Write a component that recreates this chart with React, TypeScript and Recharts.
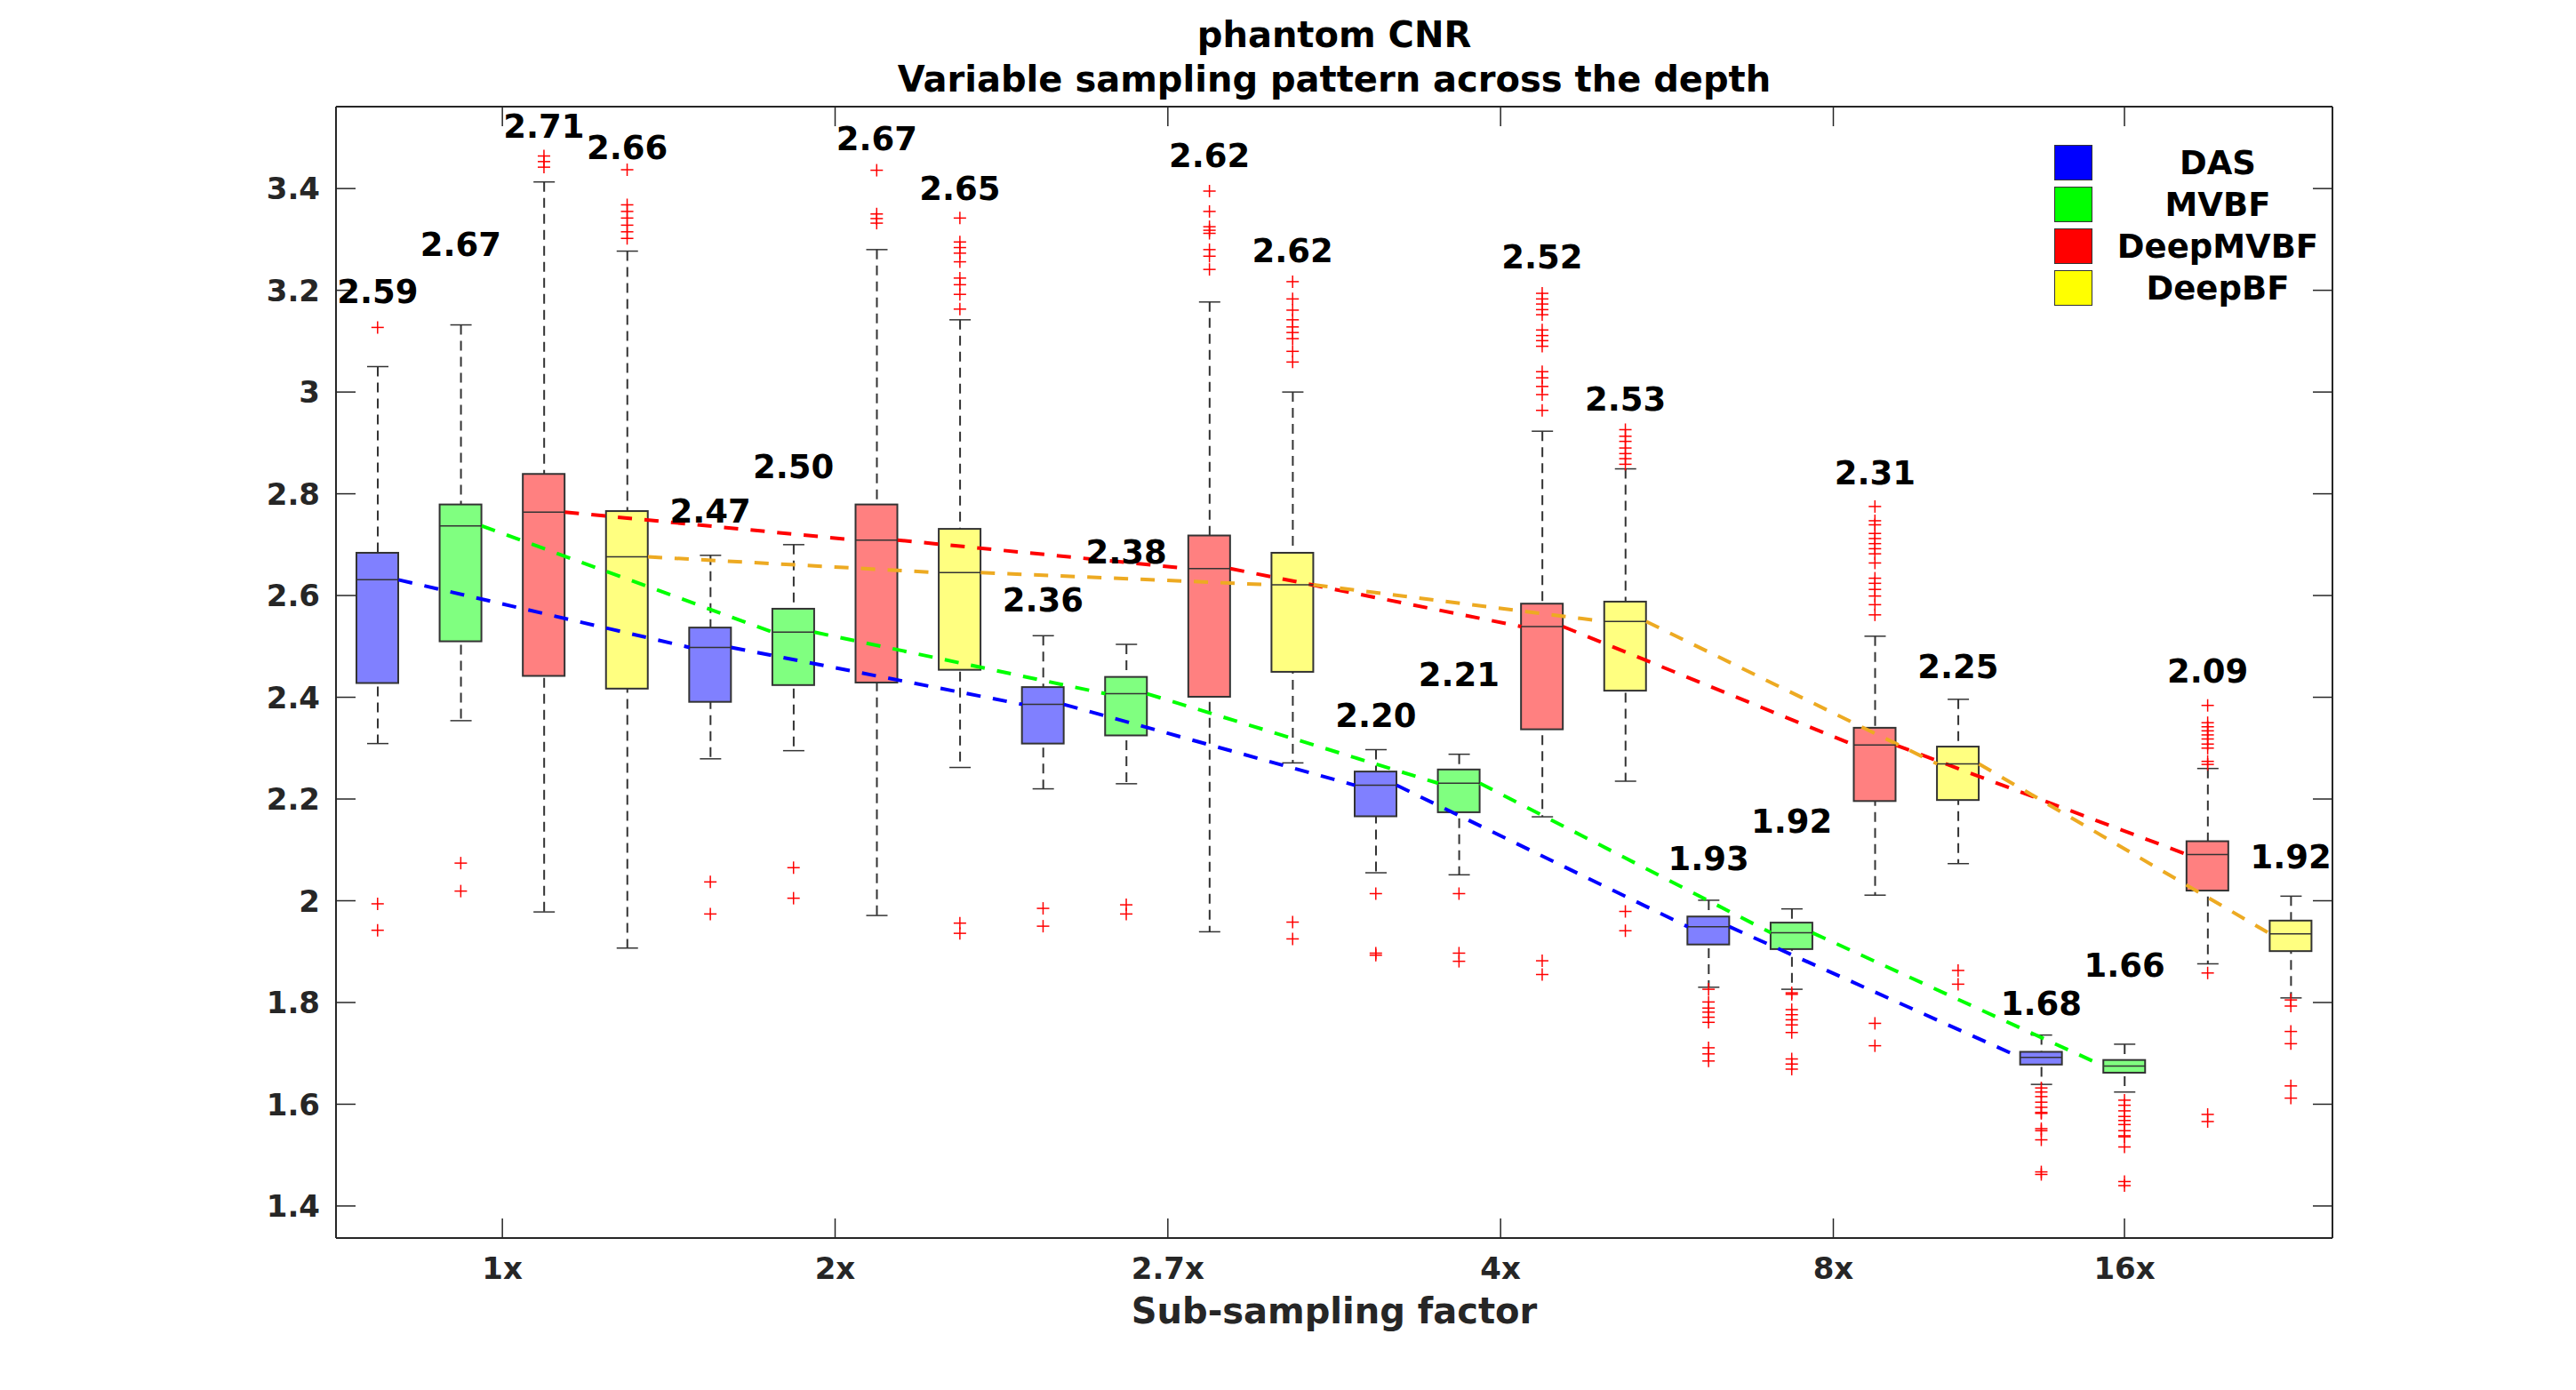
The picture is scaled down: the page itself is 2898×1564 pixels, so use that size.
import React from "react";
import { Bar, ComposedChart, Line, Scatter, XAxis, YAxis } from "recharts";

const METHODS = ["DAS", "MVBF", "DeepMVBF", "DeepBF"];
const FACTORS = ["1x", "2x", "2.7x", "4x", "8x", "16x"];
// MATLAB put the factor ticks at these box positions (16x is not centred on its group)
const FACTOR_TICKS = [2.5, 6.5, 10.5, 14.5, 18.5, 22];
const Y_TICKS = [1.4, 1.6, 1.8, 2, 2.2, 2.4, 2.6, 2.8, 3, 3.2, 3.4];
const Y_DOMAIN = [1.337, 3.561];

// one entry per box, group by group: DAS, MVBF, DeepMVBF, DeepBF
const Q1 = [
  2.428, 2.51, 2.442, 2.417,
  2.391, 2.424, 2.429, 2.454,
  2.309, 2.325, 2.401, 2.45,
  2.166, 2.174, 2.337, 2.413,
  1.914, 1.905, 2.196, 2.198,
  1.678, 1.662, 2.02, 1.901,
];
const MEDIAN = [
  2.631, 2.737, 2.764, 2.676,
  2.498, 2.528, 2.709, 2.645,
  2.386, 2.407, 2.653, 2.621,
  2.227, 2.231, 2.539, 2.549,
  1.949, 1.937, 2.306, 2.269,
  1.692, 1.675, 2.091, 1.935,
];
const Q3 = [
  2.684, 2.779, 2.839, 2.766,
  2.537, 2.574, 2.779, 2.731,
  2.42, 2.44, 2.718, 2.684,
  2.254, 2.258, 2.584, 2.588,
  1.969, 1.957, 2.34, 2.303,
  1.703, 1.687, 2.117, 1.961,
];
const WHISKER_LO = [
  2.309, 2.354, 1.978, 1.907,
  2.279, 2.295, 1.971, 2.262,
  2.22, 2.23, 1.939, 2.271,
  2.055, 2.051, 2.165, 2.235,
  1.83, 1.826, 2.011, 2.073,
  1.639, 1.624, 1.876, 1.809,
];
const WHISKER_HI = [
  3.05, 3.132, 3.413, 3.277,
  2.679, 2.7, 3.28, 3.142,
  2.521, 2.504, 3.177, 3.0,
  2.297, 2.288, 2.923, 2.849,
  2.001, 1.984, 2.52, 2.396,
  1.736, 1.718, 2.26, 2.009,
];
const MEAN = [
  2.59, 2.67, 2.71, 2.66,
  2.47, 2.5, 2.67, 2.65,
  2.36, 2.38, 2.62, 2.62,
  2.2, 2.21, 2.52, 2.53,
  1.93, 1.92, 2.31, 2.25,
  1.68, 1.66, 2.09, 1.92,
];
// where the mean text sits (data units)
const LABEL_Y = [
  3.197, 3.29, 3.521, 3.479,
  2.766, 2.853, 3.498, 3.4,
  2.59, 2.684, 3.464, 3.277,
  2.363, 2.443, 3.265, 2.985,
  2.082, 2.156, 2.841, 2.46,
  1.798, 1.873, 2.45, 2.085,
];
const OUTLIERS = [
  [3.127, 1.994, 1.942],
  [2.074, 2.019],
  [3.464, 3.453, 3.442],
  [3.437, 3.368, 3.355, 3.342, 3.328, 3.315, 3.302],

  [2.037, 1.974],
  [2.065, 2.005],
  [3.436, 3.35, 3.341, 3.332],
  [3.342, 3.295, 3.284, 3.273, 3.256, 3.224, 3.211, 3.192, 3.163, 1.956, 1.936],

  [1.985, 1.95],
  [1.992, 1.974],
  [3.395, 3.355, 3.325, 3.318, 3.312, 3.28, 3.267, 3.241],
  [3.217, 3.183, 3.161, 3.142, 3.128, 3.117, 3.105, 3.08, 3.059, 1.958, 1.925],

  [2.014, 1.897, 1.893],
  [2.014, 1.897, 1.881],
  [3.194, 3.183, 3.173, 3.162, 3.152, 3.122, 3.111, 3.101, 3.09, 3.04, 3.028, 3.011, 2.995, 2.964, 1.882, 1.855],
  [2.926, 2.913, 2.903, 2.89, 2.879, 2.869, 2.858, 1.979, 1.941],

  [1.826, 1.801, 1.789, 1.781, 1.771, 1.761, 1.711, 1.699, 1.685],
  [1.819, 1.816, 1.786, 1.776, 1.766, 1.756, 1.741, 1.689, 1.679, 1.669],
  [2.775, 2.747, 2.739, 2.722, 2.712, 2.702, 2.692, 2.682, 2.664, 2.634, 2.624, 2.612, 2.599, 2.582, 2.562, 1.759, 1.715],
  [1.863, 1.836],

  [1.632, 1.624, 1.615, 1.604, 1.594, 1.584, 1.582, 1.552, 1.548, 1.53, 1.467, 1.462],
  [1.608, 1.598, 1.587, 1.576, 1.568, 1.56, 1.548, 1.538, 1.536, 1.516, 1.448, 1.44],
  [2.384, 2.35, 2.342, 2.334, 2.326, 2.318, 2.308, 2.3, 2.274, 2.268, 1.858, 1.58, 1.566],
  [1.805, 1.793, 1.743, 1.719, 1.636, 1.612],
];

const LEGEND_COLORS = ["#0000ff", "#00ff00", "#ff0000", "#ffff00"];
const BOX_FILL = ["#8080ff", "#80ff80", "#ff8080", "#ffff80"];
const TREND_COLORS = ["#0000ff", "#00ff00", "#ff0000", "#edaa22"];

const FONT = "'DejaVu Sans', sans-serif";
const TICK_STYLE = { fill: "#262626", fontSize: 34, fontWeight: "bold", fontFamily: FONT };
const AXIS_LINE = { stroke: "#262626", strokeWidth: 2 };
const TICK_LINE = { stroke: "#262626", strokeWidth: 1.5 };
const BOX_W = 47;
const HALF_BOX = 0.25; // half a box, in slot units
const X_DOMAIN = [0.5, 24.5];

const boxes = Q1.map((q1, i) => ({
  x: i + 1,
  m: i % 4,
  q1,
  q3: Q3[i],
  med: MEDIAN[i],
  lo: WHISKER_LO[i],
  hi: WHISKER_HI[i],
  labelY: LABEL_Y[i],
  mean: MEAN[i],
}));

const outlierPts = OUTLIERS.flatMap((vals, i) => vals.map((v) => ({ x: i + 1, y: v })));

// dashed trend: segments from the right edge of one box to the left edge of the next
function trendData(m: number) {
  const pts: Array<{ x: number; y: number | null }> = [];
  for (let g = 0; g < FACTORS.length - 1; g++) {
    const a = g * 4 + m;
    const b = (g + 1) * 4 + m;
    pts.push({ x: a + 1 + HALF_BOX, y: MEDIAN[a] });
    pts.push({ x: b + 1 - HALF_BOX, y: MEDIAN[b] });
    pts.push({ x: b + 1, y: null });
  }
  return pts;
}

const BoxShape = (p: any) => {
  const { x, y, width, height, payload } = p;
  if (x == null || y == null) return null;
  return (
    <rect
      x={x}
      y={y}
      width={width}
      height={height}
      fill={BOX_FILL[payload.m]}
      stroke="#333"
      strokeWidth={2}
    />
  );
};

const WhiskerShape = (p: any) => {
  const { x, y, width, height } = p;
  if (x == null || y == null) return null;
  const cx = x + width / 2;
  return (
    <g>
      <line x1={cx} x2={cx} y1={y} y2={y + height} stroke="#333" strokeWidth={2} strokeDasharray="11 7" />
      <line x1={cx - 12} x2={cx + 12} y1={y} y2={y} stroke="#333" strokeWidth={1.5} />
      <line x1={cx - 12} x2={cx + 12} y1={y + height} y2={y + height} stroke="#333" strokeWidth={1.5} />
    </g>
  );
};

const MedianShape = (p: any) => (
  <line x1={p.cx - BOX_W / 2} x2={p.cx + BOX_W / 2} y1={p.cy} y2={p.cy} stroke="#333" strokeWidth={1.5} />
);

const PlusShape = (p: any) => (
  <g stroke="#ff0000" strokeWidth={1.5}>
    <line x1={p.cx - 7} x2={p.cx + 7} y1={p.cy} y2={p.cy} />
    <line x1={p.cx} x2={p.cx} y1={p.cy - 7} y2={p.cy + 7} />
  </g>
);

const MeanLabel = (p: any) => (
  <text
    x={p.cx}
    y={p.cy}
    textAnchor="middle"
    dominantBaseline="central"
    fill="#000"
    fontSize={37}
    fontWeight="bold"
    fontFamily={FONT}
  >
    {p.payload.mean.toFixed(2)}
  </text>
);

const fmtY = (v: number) => String(Number(v.toFixed(1)));
const fmtX = (v: number) => FACTORS[FACTOR_TICKS.indexOf(v)] ?? "";
const blank = () => "";

export default function App() {
  return (
    <div style={{ position: "absolute", left: 0, top: 0, width: 2898, height: 1564, background: "#fff", fontFamily: FONT }}>
      <div style={{ position: "absolute", left: 378, width: 2246, top: 14, textAlign: "center", fontSize: 40, fontWeight: "bold", lineHeight: "50px", color: "#000" }}>
        <div>phantom CNR</div>
        <div>Variable sampling pattern across the depth</div>
      </div>

      <ComposedChart
        width={2898}
        height={1564}
        data={boxes}
        margin={{ top: 90, right: 244, bottom: 91, left: 278 }}
      >
        <XAxis
          xAxisId="main"
          dataKey="x"
          type="number"
          domain={X_DOMAIN}
          allowDataOverflow
          ticks={FACTOR_TICKS}
          interval={0}
          tickFormatter={fmtX}
          height={80}
          tickSize={-22}
          tickMargin={44}
          axisLine={AXIS_LINE}
          tickLine={TICK_LINE}
          tick={TICK_STYLE}
        />
        <XAxis xAxisId="w" dataKey="x" type="number" domain={X_DOMAIN} allowDataOverflow hide />
        <XAxis xAxisId="t" dataKey="x" type="number" domain={X_DOMAIN} allowDataOverflow hide />
        <XAxis
          xAxisId="top"
          orientation="top"
          dataKey="x"
          type="number"
          domain={X_DOMAIN}
          allowDataOverflow
          ticks={FACTOR_TICKS}
          interval={0}
          tickFormatter={blank}
          height={30}
          tickSize={-22}
          axisLine={AXIS_LINE}
          tickLine={TICK_LINE}
        />
        <YAxis
          yAxisId="y"
          type="number"
          domain={Y_DOMAIN}
          allowDataOverflow
          ticks={Y_TICKS}
          interval={0}
          tickFormatter={fmtY}
          width={100}
          tickSize={-22}
          tickMargin={40}
          axisLine={AXIS_LINE}
          tickLine={TICK_LINE}
          tick={TICK_STYLE}
        />
        <YAxis
          yAxisId="r"
          orientation="right"
          type="number"
          domain={Y_DOMAIN}
          allowDataOverflow
          ticks={Y_TICKS}
          interval={0}
          tickFormatter={blank}
          width={30}
          tickSize={-22}
          axisLine={AXIS_LINE}
          tickLine={TICK_LINE}
        />

        <Bar
          xAxisId="w"
          yAxisId="y"
          dataKey={(d: any) => [d.lo, d.hi]}
          barSize={2}
          shape={WhiskerShape}
          isAnimationActive={false}
        />
        <Bar
          xAxisId="main"
          yAxisId="y"
          dataKey={(d: any) => [d.q1, d.q3]}
          barSize={BOX_W}
          shape={BoxShape}
          isAnimationActive={false}
        />
        <Scatter xAxisId="main" yAxisId="y" data={boxes} dataKey="med" shape={MedianShape} isAnimationActive={false} />

        {METHODS.map((name, m) => (
          <Line
            key={name}
            xAxisId="t"
            yAxisId="y"
            data={trendData(m)}
            dataKey="y"
            type="linear"
            stroke={TREND_COLORS[m]}
            strokeWidth={4}
            strokeDasharray="16 14"
            dot={false}
            activeDot={false}
            connectNulls={false}
            isAnimationActive={false}
          />
        ))}

        <Scatter xAxisId="main" yAxisId="y" data={outlierPts} dataKey="y" shape={PlusShape} isAnimationActive={false} />
        <Scatter xAxisId="top" yAxisId="r" data={boxes} dataKey="labelY" shape={MeanLabel} isAnimationActive={false} />
      </ComposedChart>

      <div style={{ position: "absolute", left: 378, width: 2246, top: 1450, textAlign: "center", fontSize: 40, fontWeight: "bold", lineHeight: "50px", color: "#262626" }}>
        Sub-sampling factor
      </div>

      <div style={{ position: "absolute", left: 2311, top: 160 }}>
        {METHODS.map((name, m) => (
          <div key={name} style={{ position: "relative", height: 47, width: 320 }}>
            <div
              style={{
                position: "absolute",
                left: 0,
                top: 3,
                width: 41,
                height: 38,
                background: LEGEND_COLORS[m],
                border: "1.5px solid #333",
              }}
            />
            <div
              style={{
                position: "absolute",
                left: 54,
                width: 260,
                top: 0,
                lineHeight: "47px",
                textAlign: "center",
                fontSize: 37,
                fontWeight: "bold",
                color: "#000",
              }}
            >
              {name}
            </div>
          </div>
        ))}
      </div>
    </div>
  );
}
